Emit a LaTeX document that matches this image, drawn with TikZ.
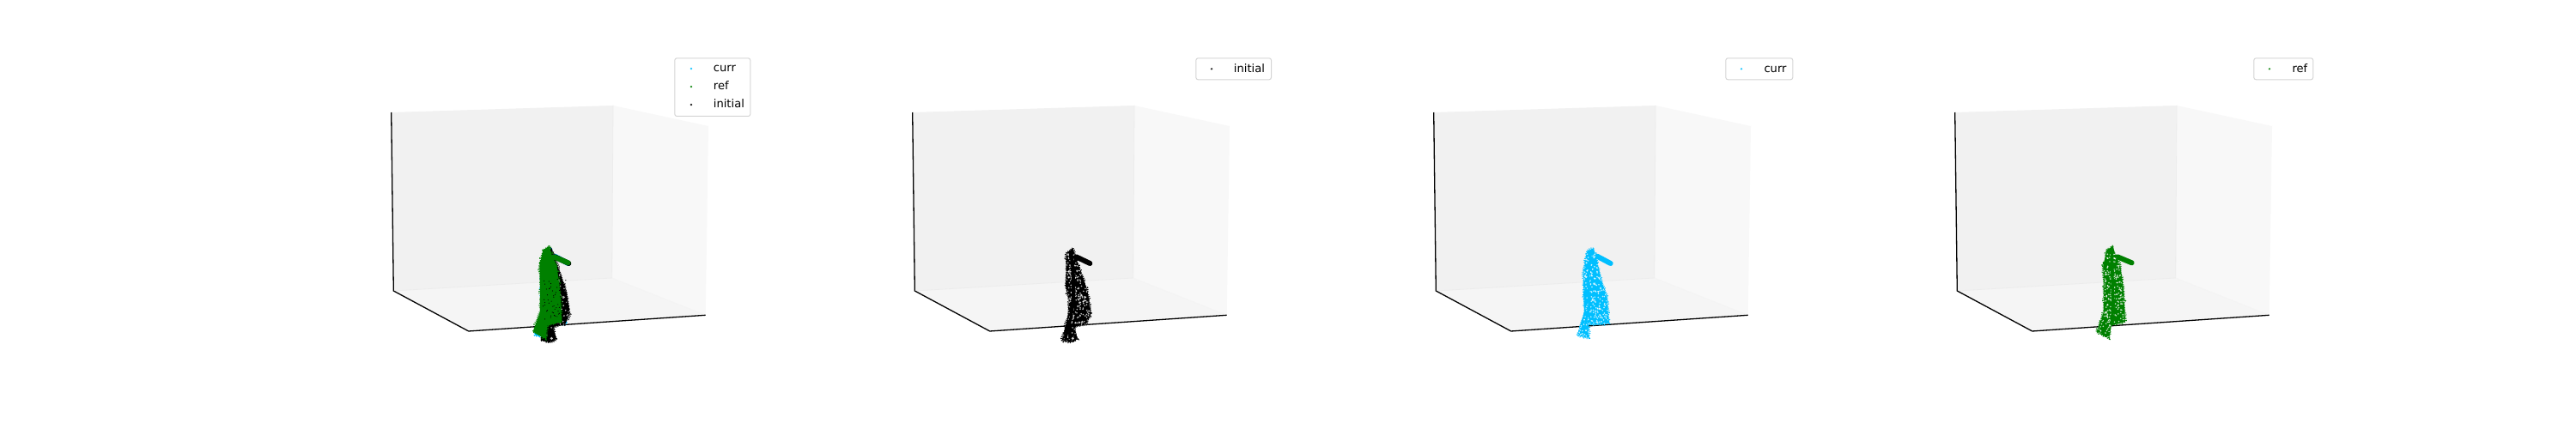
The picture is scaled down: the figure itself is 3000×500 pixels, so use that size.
\documentclass[tikz,border=0pt]{standalone}
\usepackage{fontspec}
\setmainfont{DejaVu Sans}
\usetikzlibrary{decorations.pathmorphing}
\definecolor{cuS}{HTML}{00BFFF}
\definecolor{grS}{HTML}{008000}
\definecolor{leftwall}{HTML}{F1F1F1}
\definecolor{rightwall}{HTML}{F8F8F8}
\definecolor{floorpane}{HTML}{F5F5F5}
\definecolor{paneedge}{HTML}{ECECEC}
\definecolor{legendedge}{HTML}{D5D5D5}
\tikzset{
  legendbox/.style={draw=legendedge,line width=1pt,fill=white,rounded corners=2.5pt,anchor=north west,inner sep=0pt},
  legendtext/.style={anchor=base west,inner sep=0pt,font=\fontsize{13.1}{15}\selectfont,text=black},
  axisline/.style={draw=black,line width=1.3pt},
  grain/.style={line width=2pt,dash pattern=on 0.9pt off 1.3pt,decorate,decoration={random steps,segment length=2.5pt,amplitude=1.3pt}},
  zoomed/.style={x=0.33333pt,y=-0.33333pt},
  legendmark/.style={opacity=.85},
}
% colour, speckles, seed, bbox (4), outline, arm
\newcommand{\cloudshape}[9]{%
  \pgfmathsetseed{#3}%
  \fill[#1] #8;
  \draw[#1,line width=6pt,line cap=round] #9;
  \ifnum#2>0
  \begin{scope}
    \clip #8;
    \foreach \n in {1,...,#2}{%
      \pgfmathsetmacro{\px}{#4+(#5-#4)*rnd}%
      \pgfmathsetmacro{\py}{#6+(#7-#6)*rnd}%
      \fill[white,opacity=0.75] (\px,\py) circle[radius=2.7];
    }
  \end{scope}
  \fi
  \draw[#1,grain] #8;
}
\newcommand{\blackcloud}[1]{\cloudshape{black}{#1}{11}{85}{190}{75}{390}
  {(118,58)--(95,75)--(95,130)--(93,190)--(105,240)--(100,300)--(80,380)--(110,387)--(135,375)--(125,340)--(130,330)--(165,325)--(182,285)--(170,210)--(150,150)--(130,95)--cycle}
  {(130,88)--(178,111)}
  \draw[black,line width=3.6pt,line cap=round,line join=round] (113,85)--(120,150)--(120,230)--(112,300)--(92,372);
  \fill[white,opacity=.8] (118,373) circle[radius=5];
  \draw[black,line width=1.4pt,dash pattern=on 1.2pt off .6pt] (118,373) circle[radius=11];
}
\newcommand{\cyancloud}[1]{\cloudshape{cuS}{#1}{23}{50}{165}{75}{375}
  {(107,58)--(85,68)--(72,130)--(72,210)--(75,280)--(50,362)--(92,372)--(90,325)--(130,325)--(162,320)--(155,230)--(135,170)--(118,95)--cycle}
  {(120,86)--(167,111)}
  \draw[cuS,line width=2.6pt,line cap=round,line join=round] (98,75)--(90,160)--(92,260)--(80,320);
}
\newcommand{\greencloud}[1]{\cloudshape{grS}{#1}{37}{35}{140}{70}{378}
  {(92,50)--(70,65)--(58,120)--(60,200)--(60,280)--(35,350)--(80,375)--(85,328)--(135,315)--(130,210)--(118,120)--(100,80)--cycle}
  {(108,88)--(158,109)}
  \draw[grS,line width=3.4pt,line cap=round,line join=round] (88,65)--(90,160)--(92,250)--(88,325);
  \draw[grS,line width=4pt,line cap=round] (62,110)--(100,115);
}
\newcommand{\axesbox}{%
  \fill[leftwall] (455.7,131)--(714,123)--(712.7,324)--(458.3,339)--cycle;
  \fill[rightwall] (714,123)--(825,147)--(821.7,367.3)--(712.7,324)--cycle;
  \fill[floorpane] (458.3,339)--(712.7,324)--(821.7,367.3)--(545.7,386)--cycle;
  \draw[paneedge,line width=0.8pt] (458.3,339)--(712.7,324)--(714,123);
  \draw[paneedge!60!white,line width=0.8pt] (712.7,324)--(821.7,367.3);
  \draw[axisline] (455.7,131)--(458.3,339)--(545.7,386)--(821.7,367.3);
}
\begin{document}
\begin{tikzpicture}[x=1pt,y=-1pt]
\useasboundingbox (0,0) rectangle (3000,500);
\fill[white] (0,0) rectangle (3000,500);
% panel 1
\axesbox
\begin{scope}[xshift=580pt,yshift=-270pt,zoomed]
  \begin{scope}[xshift=26pt]\cyancloud{0}\end{scope}
  \begin{scope}[xshift=23pt]\blackcloud{160}\end{scope}
  \begin{scope}[xshift=29pt]\greencloud{0}\end{scope}
\end{scope}
\pgfmathsetseed{5}
\begin{scope}
  \clip (632,325) rectangle (662,372);
  \foreach \n in {1,...,60}{\pgfmathsetmacro{\px}{632+30*rnd}\pgfmathsetmacro{\py}{325+47*rnd}\fill[black] (\px,\py) circle[radius=0.6];}
\end{scope}
\node[legendbox,minimum width=88pt,minimum height=67.7pt] (legA) at (785.3,67.3) {};
\fill[cuS,legendmark] (805,80) circle[radius=1.3];
\fill[grS,legendmark] (805,101) circle[radius=1.3];
\fill[black,legendmark] (805,122) circle[radius=1.3];
\node[legendtext] (legAa) at (830.7,84) {curr};
\node[legendtext] (legAb) at (830.7,104.5) {ref};
\node[legendtext] (legAc) at (830.7,125.5) {initial};
% panel 2
\begin{scope}[xshift=607pt]\axesbox\end{scope}
\begin{scope}[xshift=1210pt,yshift=-270pt,zoomed]\blackcloud{420}\end{scope}
\node[legendbox,minimum width=87.7pt,minimum height=25pt] (legB) at (1392.3,67.3) {};
\fill[black,legendmark] (1411,80.3) circle[radius=1.3];
\node[legendtext] (legBa) at (1436.7,84.5) {initial};
% panel 3
\begin{scope}[xshift=1214pt]\axesbox\end{scope}
\begin{scope}[xshift=1820pt,yshift=-270pt,zoomed]\cyancloud{420}\end{scope}
\node[legendbox,minimum width=78pt,minimum height=25pt] (legC) at (2009.3,67.3) {};
\fill[cuS,legendmark] (2028,80.3) circle[radius=1.3];
\node[legendtext] (legCa) at (2054.3,84.5) {curr};
% panel 4
\begin{scope}[xshift=1821pt]\axesbox\end{scope}
\begin{scope}[xshift=2430pt,yshift=-270pt,zoomed]\greencloud{420}\end{scope}
\node[legendbox,minimum width=69pt,minimum height=25pt] (legD) at (2624.3,67.3) {};
\fill[grS,legendmark] (2643,80.3) circle[radius=1.3];
\node[legendtext] (legDa) at (2669.3,84.5) {ref};
\end{tikzpicture}
\end{document}
